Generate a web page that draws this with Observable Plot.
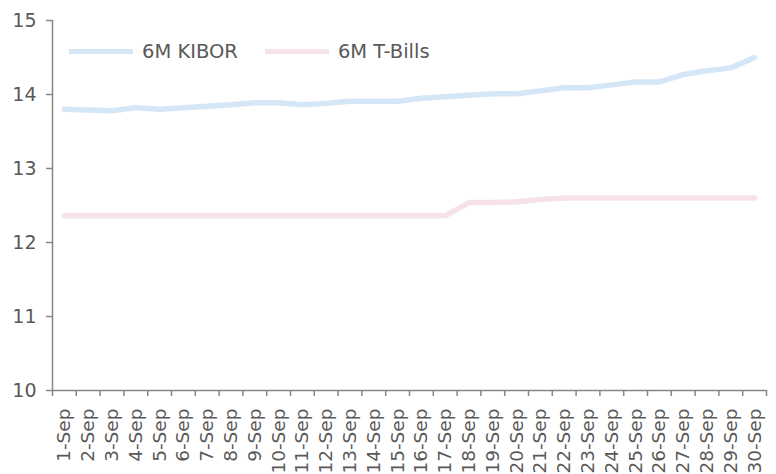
<!DOCTYPE html>
<html>
<head>
<meta charset="utf-8">
<script src="https://cdn.jsdelivr.net/npm/d3@7"></script>
<script src="https://cdn.jsdelivr.net/npm/@observablehq/plot@0.6"></script>
<style>
  body { margin: 0; background: #fff; }
  #chart { position: relative; width: 776px; height: 474px; font-family: "DejaVu Sans", sans-serif; }
  .legend { position: absolute; left: 69px; top: 40px; height: 22px; display: flex; align-items: center; font-size: 19.5px; color: #595959; }
  .legend .item { display: flex; align-items: center; margin-right: 27px; }
  .legend .swatch { width: 64px; height: 5px; margin-right: 9px; }
</style>
</head>
<body>
<div id="chart"></div>
<script>
// Daily 6-month rates (%) for September
const days = ["1-Sep","2-Sep","3-Sep","4-Sep","5-Sep","6-Sep","7-Sep","8-Sep","9-Sep","10-Sep",
  "11-Sep","12-Sep","13-Sep","14-Sep","15-Sep","16-Sep","17-Sep","18-Sep","19-Sep","20-Sep",
  "21-Sep","22-Sep","23-Sep","24-Sep","25-Sep","26-Sep","27-Sep","28-Sep","29-Sep","30-Sep"];
const kibor = [13.80, 13.79, 13.78, 13.82, 13.80, 13.82, 13.84, 13.86, 13.89, 13.89,
  13.86, 13.88, 13.91, 13.91, 13.91, 13.95, 13.97, 13.99, 14.01, 14.01,
  14.05, 14.09, 14.09, 14.13, 14.17, 14.17, 14.27, 14.32, 14.36, 14.50];
const tbills = [12.36, 12.36, 12.36, 12.36, 12.36, 12.36, 12.36, 12.36, 12.36, 12.36,
  12.36, 12.36, 12.36, 12.36, 12.36, 12.36, 12.36, 12.54, 12.54, 12.55,
  12.58, 12.60, 12.60, 12.60, 12.60, 12.60, 12.60, 12.60, 12.60, 12.60];
const seriesNames = ["6M KIBOR", "6M T-Bills"];
const seriesColors = ["#d5e7f7", "#f6e3e8"];
const yTicks = [10, 11, 12, 13, 14, 15];

// Long-format rows: position n = 1..30 along a continuous x so that
// category ticks can sit on the boundaries between days.
const rows = [];
[kibor, tbills].forEach((vals, s) => {
  vals.forEach((v, i) => rows.push({n: i + 1, day: days[i], value: v, series: seriesNames[s]}));
});
const centers = days.map((d, i) => i + 1);
const bounds = d3.range(days.length + 1).map(i => i + 0.5);

const axisColor = "#868686";
const textColor = "#595959";

const chart = Plot.plot({
  width: 776,
  height: 474,
  marginLeft: 52,
  marginRight: 10,
  marginTop: 20,
  marginBottom: 84,
  style: {fontFamily: "DejaVu Sans, sans-serif", fontSize: "19px", color: textColor, background: "#fff"},
  x: {domain: [0.5, days.length + 0.5]},
  y: {domain: [10, 15]},
  color: {domain: seriesNames, range: seriesColors},
  marks: [
    Plot.lineY(rows, {x: "n", y: "value", z: "series", stroke: "series", strokeWidth: 5.5}),
    Plot.ruleY([10], {stroke: axisColor, strokeWidth: 1.5}),
    Plot.ruleX([0.5], {stroke: axisColor, strokeWidth: 1.5}),
    Plot.axisY({ticks: yTicks, tickSize: 6, tickPadding: 10, tickFormat: "d", fontSize: 19,
      stroke: axisColor, strokeWidth: 1.5, fill: textColor, label: null}),
    Plot.axisX({ticks: bounds, tickSize: 6, tickFormat: () => "", stroke: axisColor, strokeWidth: 1.5, label: null}),
    Plot.axisX({ticks: centers, tickSize: 0, tickPadding: 18, tickRotate: -90, fontSize: 18.5,
      tickFormat: d => days[d - 1], fill: textColor, label: null})
  ]
});

const root = document.getElementById("chart");
root.appendChild(chart);

// Legend overlaid at the top-left of the plotting area
const legend = document.createElement("div");
legend.className = "legend";
seriesNames.forEach((name, i) => {
  const item = document.createElement("div");
  item.className = "item";
  const sw = document.createElement("span");
  sw.className = "swatch";
  sw.style.background = seriesColors[i];
  const label = document.createElement("span");
  label.textContent = name;
  item.appendChild(sw);
  item.appendChild(label);
  legend.appendChild(item);
});
root.appendChild(legend);
</script>
</body>
</html>
